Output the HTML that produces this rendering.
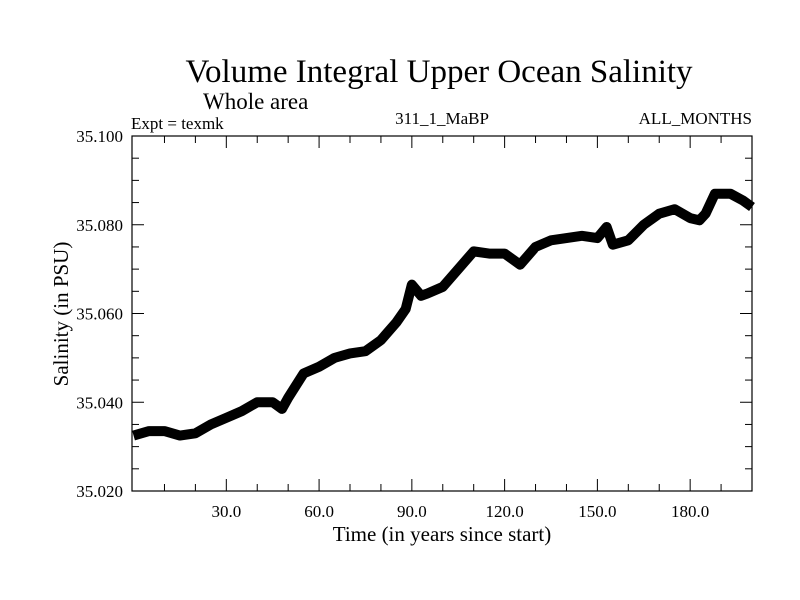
<!DOCTYPE html>
<html><head><meta charset="utf-8"><style>
body{margin:0;background:#fff}
svg{display:block}
text{font-family:"Liberation Serif","DejaVu Serif","Times New Roman",serif}
</style></head><body>
<svg id="chart" width="800" height="600" viewBox="0 0 800 600">
<rect width="800" height="600" fill="#fff"/>
<text x="439" y="82" font-size="33" text-anchor="middle" font-family="Liberation Serif, serif">Volume Integral Upper Ocean Salinity</text>
<text x="203" y="109" font-size="23" font-family="Liberation Serif, serif">Whole area</text>
<text x="131" y="129" font-size="17" font-family="Liberation Serif, serif">Expt = texmk</text>
<text x="442" y="124" font-size="17" text-anchor="middle" font-family="Liberation Serif, serif">311_1_MaBP</text>
<text x="752" y="124" font-size="17" text-anchor="end" font-family="Liberation Serif, serif">ALL_MONTHS</text>
<text x="442" y="541" font-size="21" text-anchor="middle" font-family="Liberation Serif, serif">Time (in years since start)</text>
<text x="0" y="0" font-size="21" text-anchor="middle" transform="translate(68,314) rotate(-90)" font-family="Liberation Serif, serif">Salinity (in PSU)</text>
<g id="axes"></g>
<g id="series"></g>
<rect x="132" y="136" width="620" height="355" fill="none" stroke="#000" stroke-width="1.2"/>
</svg>
<script>
const years=[0,5,10,15,20,25,30,35,40,45,48,50,55,60,65,70,75,80,85,88,90,93,95,100,105,110,115,120,125,130,135,140,145,150,153,155,160,165,170,175,180,183,185,188,190,193,197,200];
const salinity=[35.0325,35.0335,35.0335,35.0325,35.033,35.035,35.0365,35.038,35.040,35.040,35.0385,35.041,35.0465,35.048,35.050,35.051,35.0515,35.054,35.058,35.061,35.0665,35.064,35.0645,35.066,35.070,35.074,35.0735,35.0735,35.071,35.075,35.0765,35.077,35.0775,35.077,35.0795,35.0755,35.0765,35.080,35.0825,35.0835,35.0815,35.081,35.0825,35.087,35.087,35.087,35.0855,35.084];
const xTickLabels=["30.0","60.0","90.0","120.0","150.0","180.0"];
const yTickLabels=["35.020","35.040","35.060","35.080","35.100"];
const L=132,R=752,T=136,B=491,xmin=-0.5,xmax=200,ymin=35.02,ymax=35.10;
const sx=v=>L+(v-xmin)/(xmax-xmin)*(R-L);
const sy=v=>B-(v-ymin)/(ymax-ymin)*(B-T);
const NS="http://www.w3.org/2000/svg";
const ax=document.getElementById('axes');
function mk(tag,attrs,parent){const e=document.createElementNS(NS,tag);for(const k in attrs)e.setAttribute(k,attrs[k]);parent.appendChild(e);return e;}
for(let v=10;v<200;v+=10){
  const major=v%30===0, len=major?12:7, x=sx(v);
  const t1=mk('line',{x1:x,x2:x,y1:B,y2:B-len,stroke:'#000','stroke-width':1},ax);
  
  
  const t2=mk('line',{x1:x,x2:x,y1:T,y2:T+len,stroke:'#000','stroke-width':1},ax);
  
  
}
xTickLabels.forEach(s=>{
  const t=mk('text',{x:sx(parseFloat(s)),y:B+26,'font-size':17,'text-anchor':'middle','font-family':'Liberation Serif, serif'},ax);
  t.textContent=s;
  
  
});
for(let i=1;i<16;i++){
  const v=ymin+i*0.005, major=i%4===0, len=major?12:7, y=sy(v);
  const t1=mk('line',{x1:L,x2:L+len,y1:y,y2:y,stroke:'#000','stroke-width':1},ax);
  
  
  const t2=mk('line',{x1:R,x2:R-len,y1:y,y2:y,stroke:'#000','stroke-width':1},ax);
  
  
}
yTickLabels.forEach(s=>{
  const t=mk('text',{x:123,y:sy(parseFloat(s))+6,'font-size':17,'text-anchor':'end','font-family':'Liberation Serif, serif'},ax);
  t.textContent=s;
  
  
});
const pts=years.map((y,i)=>sx(Math.max(y,xmin))+','+sy(salinity[i])).join(' ');
const band=mk('polyline',{points:pts,fill:'none',stroke:'#000','stroke-width':10,'stroke-linejoin':'round'},document.getElementById('series'));


</script>
</body></html>
